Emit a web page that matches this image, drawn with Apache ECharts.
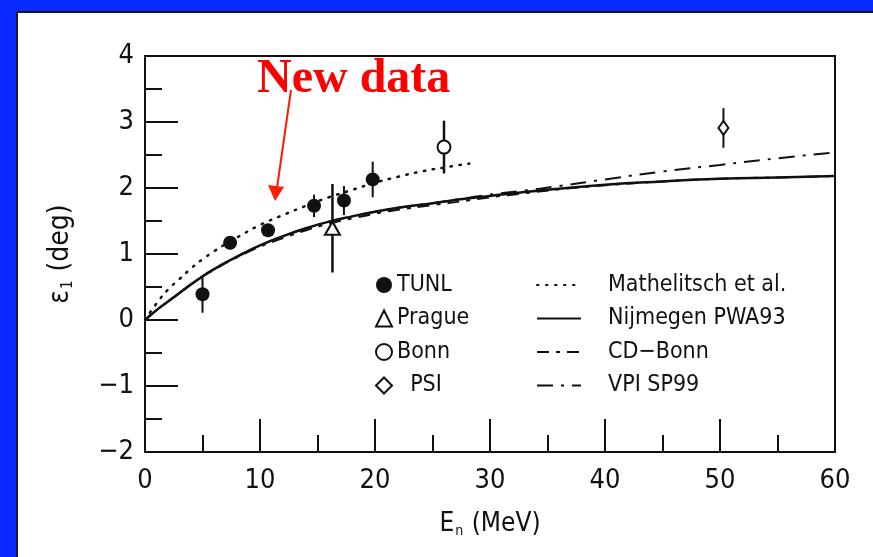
<!DOCTYPE html>
<html>
<head>
<meta charset="utf-8">
<script src="https://cdn.jsdelivr.net/npm/echarts@6/dist/echarts.min.js"></script>
<style>
  html, body { margin: 0; padding: 0; background: #0a2bff; }
  #chart { width: 873px; height: 557px; }
</style>
</head>
<body>
<div id="chart"></div>
<script>
// Measurements: [E_n (MeV), epsilon_1 (deg), error]
const tunl   = [[5.0, 0.39, 0.28], [7.4, 1.17, 0.10], [10.7, 1.36, 0.09], [14.7, 1.73, 0.17], [17.3, 1.81, 0.22], [19.8, 2.13, 0.27]];
const prague = [[16.3, 1.39, 0.67]];
const bonn   = [[26.0, 2.62, 0.40]];
const psi    = [[50.3, 2.91, 0.30]];

// Model curves: [E_n, epsilon_1]
const mathelitsch = [[0,0],[1,0.25],[2,0.46],[3,0.62],[4,0.78],[5,0.92],[6,1.04],[7,1.15],[8,1.25],[10,1.44],[12,1.59],[14,1.73],[16,1.86],[18,1.97],[20,2.08],[22,2.17],[24,2.25],[26,2.31],[28.2,2.37]];
const nijmegen = [[0,0],[1,0.15],[2,0.28],[3,0.41],[4,0.54],[5,0.66],[6,0.77],[7,0.87],[8,0.96],[10,1.13],[12,1.27],[14,1.39],[16,1.49],[18,1.57],[20,1.64],[22,1.70],[25,1.77],[28,1.84],[30,1.88],[33,1.94],[36,1.99],[40,2.05],[45,2.10],[50,2.14],[55,2.16],[60,2.18]];
const cdBonn = [[0,0],[1,0.15],[2,0.28],[3,0.41],[4,0.54],[5,0.66],[6,0.76],[7,0.86],[8,0.95],[10,1.11],[12,1.24],[14,1.36],[16,1.46],[18,1.54],[20,1.61],[22,1.67],[25,1.74],[28,1.81],[30,1.86],[33,1.92],[36,1.98],[40,2.04],[45,2.10],[50,2.14],[55,2.16],[60,2.18]];
const vpi = [[0,0],[1,0.15],[2,0.28],[3,0.41],[4,0.54],[5,0.66],[6,0.77],[7,0.87],[8,0.96],[10,1.13],[12,1.27],[14,1.39],[16,1.49],[18,1.57],[20,1.64],[22,1.70],[25,1.77],[28,1.85],[30,1.90],[33,1.96],[36,2.03],[40,2.13],[45,2.25],[50,2.35],[55,2.45],[60,2.54]];

const xTicks = { min: 0, max: 60, step: 10 };
const yTicks = { min: -2, max: 4, step: 1 };

const FONT = '"DejaVu Sans Condensed", "DejaVu Sans", sans-serif';
const INK = '#111';

function errorBars(data, width) {
  return {
    type: 'custom',
    data: data,
    silent: true,
    z: 3,
    renderItem: function (params, api) {
      const x = api.value(0), y = api.value(1), e = api.value(2);
      const p1 = api.coord([x, y - e]);
      const p2 = api.coord([x, y + e]);
      return {
        type: 'line',
        shape: { x1: p1[0], y1: p1[1], x2: p2[0], y2: p2[1] },
        style: { stroke: INK, lineWidth: width }
      };
    },
    encode: { x: 0, y: 1 }
  };
}

const axisCommon = {
  type: 'value',
  axisLine: { onZero: false, lineStyle: { color: INK, width: 2 } },
  axisTick: { inside: true, length: 33, lineStyle: { color: INK, width: 2 } },
  minorTick: { show: true, splitNumber: 2, length: 17, lineStyle: { color: INK, width: 2 } },
  splitLine: { show: false }
};

function nameRich(size) {
  return {
    a: { fontFamily: FONT, fontSize: size, color: INK },
    s: { fontFamily: FONT, fontSize: Math.round(size * 0.55), color: INK, verticalAlign: 'bottom', padding: [Math.round(size * 0.55), 1, 0, 1] }
  };
}

const chart = echarts.init(document.getElementById('chart'), null, { renderer: 'canvas' });

chart.setOption({
  backgroundColor: '#0a2bff',
  animation: false,
  graphic: [
    {
      type: 'rect', z: -10,
      shape: { x: 17, y: 12, width: 870, height: 560 },
      style: { fill: '#fff', stroke: '#1a1a1a', lineWidth: 2 }
    },
    {
      type: 'text', z: 20,
      left: 257, top: 56,
      style: {
        text: 'New data',
        font: 'bold 48px "Liberation Serif", "Times New Roman", serif',
        fill: '#ff0000'
      }
    },
    {
      type: 'line', z: 20,
      shape: { x1: 291, y1: 90, x2: 277, y2: 188 },
      style: { stroke: '#ff1a00', lineWidth: 2 }
    },
    {
      type: 'polygon', z: 20,
      shape: { points: [[268, 185], [284, 187], [275, 201]] },
      style: { fill: '#ff1a00' }
    }
  ],
  grid: {
    left: 145, right: 38, top: 56, bottom: 105,
    show: true, borderColor: INK, borderWidth: 2, backgroundColor: 'transparent'
  },
  legend: [
    {
      data: ['TUNL', 'Prague', 'Bonn', 'PSI'],
      orient: 'vertical',
      left: 370, top: 268,
      itemWidth: 16, itemHeight: 16, itemGap: 9.5,
      formatter: function (name) { return name === 'PSI' ? '  PSI' : name; },
      textStyle: { fontFamily: FONT, fontSize: 23, color: INK, lineHeight: 24 }
    },
    {
      data: ['Mathelitsch et al.', 'Nijmegen PWA93', 'CD\u2212Bonn', 'VPI SP99'],
      orient: 'vertical',
      left: 531, top: 268,
      itemWidth: 44, itemHeight: 16, itemGap: 9.5,
      itemStyle: { opacity: 0 },
      textStyle: { fontFamily: FONT, fontSize: 23, color: INK, lineHeight: 24, padding: [0, 0, 0, 22] }
    }
  ],
  xAxis: Object.assign({}, axisCommon, {
    min: xTicks.min, max: xTicks.max, interval: xTicks.step,
    axisLabel: { fontFamily: FONT, fontSize: 27, color: INK, margin: 15 },
    name: '{a|E}{s|n}{a| (MeV)}',
    nameLocation: 'middle',
    nameGap: 58,
    nameTextStyle: { rich: nameRich(26) }
  }),
  yAxis: Object.assign({}, axisCommon, {
    min: yTicks.min, max: yTicks.max, interval: yTicks.step,
    axisLabel: {
      fontFamily: FONT, fontSize: 27, color: INK, margin: 11,
      formatter: function (v) { return v < 0 ? '\u2212' + Math.abs(v) : String(v); }
    },
    name: '{a|\u03b5}{s|1}{a| (deg)}',
    nameLocation: 'middle',
    nameRotate: 90,
    nameGap: 69,
    nameTextStyle: { rich: nameRich(28) }
  }),
  series: [
    {
      name: 'Mathelitsch et al.', type: 'line', data: mathelitsch, smooth: true,
      showSymbol: false, symbol: 'none', z: 2,
      lineStyle: { color: INK, width: 2.5, type: [1.5, 7.5], cap: 'round' },
      itemStyle: { color: INK }
    },
    {
      name: 'Nijmegen PWA93', type: 'line', data: nijmegen, smooth: true,
      showSymbol: false, symbol: 'none', z: 2,
      lineStyle: { color: INK, width: 2.5 },
      itemStyle: { color: INK }
    },
    {
      name: 'CD\u2212Bonn', type: 'line', data: cdBonn, smooth: true,
      showSymbol: false, symbol: 'none', z: 2,
      lineStyle: { color: INK, width: 2, type: [12, 7, 4, 7] },
      itemStyle: { color: INK }
    },
    {
      name: 'VPI SP99', type: 'line', data: vpi, smooth: true,
      showSymbol: false, symbol: 'none', z: 2,
      lineStyle: { color: INK, width: 2, type: [16, 8, 3, 8] },
      itemStyle: { color: INK }
    },
    errorBars(tunl, 2),
    errorBars(prague, 2.5),
    errorBars(bonn, 2.5),
    errorBars(psi, 2),
    {
      name: 'TUNL', type: 'scatter', data: tunl, z: 5,
      symbol: 'circle', symbolSize: 14,
      itemStyle: { color: INK, opacity: 1 }
    },
    {
      name: 'Prague', type: 'scatter', data: prague, z: 5,
      symbol: 'triangle', symbolSize: [15, 13],
      itemStyle: { color: '#fff', borderColor: INK, borderWidth: 2, opacity: 1 }
    },
    {
      name: 'Bonn', type: 'scatter', data: bonn, z: 5,
      symbol: 'circle', symbolSize: 13,
      itemStyle: { color: '#fff', borderColor: INK, borderWidth: 2, opacity: 1 }
    },
    {
      name: 'PSI', type: 'scatter', data: psi, z: 5,
      symbol: 'diamond', symbolSize: [10, 14],
      itemStyle: { color: '#fff', borderColor: INK, borderWidth: 2, opacity: 1 }
    }
  ]
});
</script>
</body>
</html>
